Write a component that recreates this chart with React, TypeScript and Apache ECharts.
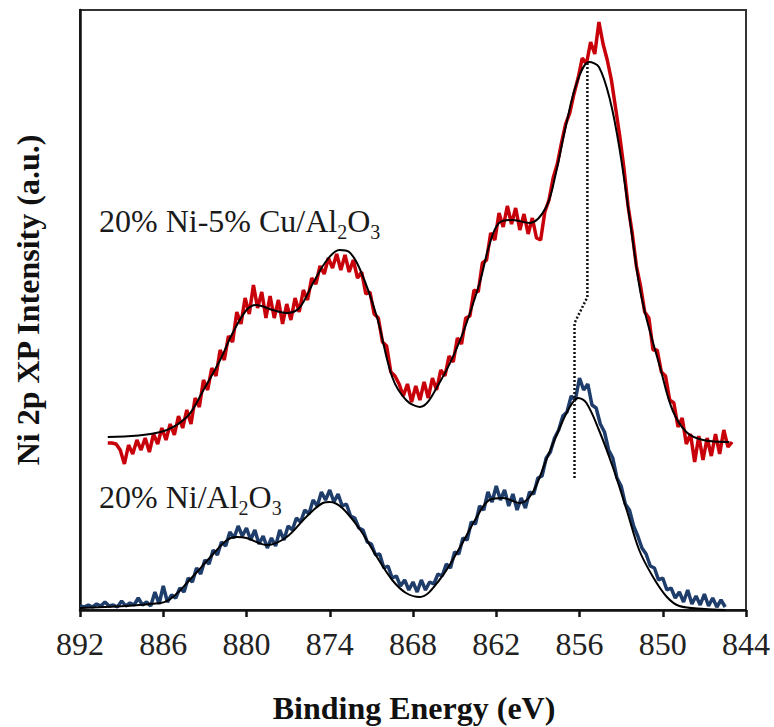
import React, { useEffect, useRef } from "react";
import * as echarts from "echarts";

// x-axis tick labels (binding energy, eV)
const xTicks = [892, 886, 880, 874, 868, 862, 856, 850, 844];

// experimental spectra: values sampled every 0.3 eV starting at the given energy
const energyStep = 0.3;
const cuStart = 890.0;
const niStart = 892.0;

// 20% Ni-5% Cu/Al2O3 measured intensity (a.u.)
const cuExp = [
  167, 167, 166, 160, 146, 165, 156, 170, 160, 172,
  158, 176, 166, 182, 170, 186, 175, 194, 182, 200,
  186, 212, 203, 230, 220, 242, 234, 260, 250, 274,
  268, 298, 286, 312, 296, 325, 302, 318, 292, 314,
  292, 310, 286, 306, 290, 312, 298, 320, 310, 332,
  326, 344, 336, 352, 342, 356, 340, 355, 338, 350,
  332, 338, 316, 318, 296, 292, 268, 264, 238, 234,
  226, 214, 226, 208, 224, 210, 228, 212, 232, 220,
  240, 234, 254, 248, 272, 266, 292, 294, 320, 318,
  347, 350, 377, 370, 397, 383, 404, 386, 402, 380,
  396, 376, 392, 372, 370, 398, 410, 432, 446, 467,
  486, 497, 516, 532, 552, 546, 568, 556, 588, 566,
  550, 530, 502, 474, 442, 404, 377, 344, 324, 298,
  292, 260, 260, 238, 234, 210, 207, 183, 192, 166,
  176, 148, 174, 150, 172, 154, 176, 156, 180, 163,
  168,
];

// 20% Ni/Al2O3 measured intensity (a.u.)
const niExp = [
  4, 3, 5, 3, 6, 4, 8, 4, 5, 3,
  9, 4, 7, 5, 12, 5, 8, 4, 18, 6,
  24, 8, 15, 12, 22, 18, 32, 28, 42, 36,
  50, 46, 60, 55, 68, 64, 78, 72, 84, 74,
  82, 70, 80, 66, 74, 62, 72, 64, 80, 70,
  84, 80, 92, 88, 100, 96, 110, 104, 118, 110,
  120, 108, 116, 104, 106, 94, 92, 82, 80, 68,
  66, 55, 56, 42, 44, 32, 34, 24, 30, 20,
  28, 18, 30, 20, 28, 26, 36, 34, 46, 42,
  58, 56, 72, 70, 88, 86, 104, 100, 118, 108,
  124, 110, 120, 104, 116, 100, 112, 102, 118, 116,
  132, 134, 152, 158, 172, 180, 194, 198, 214, 210,
  232, 220, 226, 205, 202, 186, 178, 160, 152, 132,
  124, 106, 100, 84, 74, 62, 56, 44, 42, 30,
  32, 20, 22, 12, 18, 8, 20, 6, 14, 5,
  16, 4, 12, 3, 10, 3,
];

// fitted envelopes [energy, intensity]
const cuFit = [
  [890.0, 173], [886.2, 178], [884.3, 193], [883.1, 220], [881.9, 250], [881.0, 277],
  [880.0, 300], [879.3, 305], [878.1, 300], [877.1, 297], [876.2, 302], [875.2, 327],
  [874.2, 350], [873.3, 360], [872.6, 358], [871.8, 340], [870.6, 293], [869.5, 233],
  [868.5, 210], [867.5, 203], [866.1, 227], [864.6, 270], [863.2, 327], [862.5, 365],
  [861.8, 387], [860.8, 390], [859.6, 387], [858.4, 403], [857.7, 437], [857.0, 483],
  [856.2, 527], [855.3, 548], [854.6, 543], [853.8, 510], [853.1, 460], [852.4, 393],
  [851.7, 325], [851.2, 293], [850.2, 243], [849.3, 200], [848.3, 178], [847.1, 170],
  [845.2, 168],
];

const niFit = [
  [892.0, 2], [886.2, 7], [885.3, 13], [883.9, 33], [882.6, 53], [881.4, 70],
  [880.7, 73], [880.0, 72], [878.5, 65], [877.1, 73], [875.7, 93], [874.5, 107],
  [874.0, 108], [873.1, 102], [871.8, 80], [870.6, 53], [869.5, 30], [868.5, 17],
  [867.5, 13], [866.1, 30], [864.6, 63], [863.4, 93], [862.5, 110], [861.5, 112],
  [860.3, 107], [859.4, 117], [858.4, 150], [857.4, 183], [856.7, 203], [856.1, 212],
  [855.5, 207], [854.6, 180], [853.6, 143], [852.6, 100], [851.7, 60], [850.7, 33],
  [849.7, 13], [848.8, 4], [847.0, 1], [845.5, 0],
];

// dotted guide showing the Ni 2p3/2 peak shift
const peakShift = [
  [855.43, 547], [855.43, 313], [856.36, 287], [856.36, 132],
];

const xTitle = "Binding Energy (eV)";
const yTitle = "Ni 2p XP Intensity (a.u.)";
const cuLabel = ["20% Ni-5% Cu/Al", "2", "O", "3"];
const niLabel = ["20% Ni/Al", "2", "O", "3"];

const SERIF = "'Liberation Serif', 'Times New Roman', Times, serif";

function toPairs(start: number, values: number[]) {
  return values.map((v, i) => [Number((start - i * energyStep).toFixed(2)), v]);
}

const richStyles = {
  a: { fontSize: 32, lineHeight: 42, fontFamily: SERIF, fill: "#1a1a1a" },
  s: { fontSize: 20, lineHeight: 20, verticalAlign: "bottom", fontFamily: SERIF, fill: "#1a1a1a" },
};

function richText(parts: string[]) {
  return `{a|${parts[0]}}{s|${parts[1]}}{a|${parts[2]}}{s|${parts[3]}}`;
}

export default function App() {
  const ref = useRef<HTMLDivElement>(null);

  useEffect(() => {
    if (!ref.current) return;
    const chart = echarts.init(ref.current, undefined, { renderer: "svg" });
    const option = {
      animation: false,
      backgroundColor: "#ffffff",
      grid: {
        left: 80,
        right: 28,
        top: 10,
        bottom: 117,
        show: true,
        borderColor: "#333",
        borderWidth: 2,
        backgroundColor: "transparent",
      },
      xAxis: {
        type: "value",
        min: 844,
        max: 892,
        inverse: true,
        axisLine: { show: true, lineStyle: { color: "#111", width: 2.5 } },
        axisTick: {
          show: true,
          inside: false,
          length: 7,
          lineStyle: { color: "#111", width: 2.5 },
          customValues: xTicks,
        },
        axisLabel: {
          customValues: xTicks,
          fontSize: 32,
          fontFamily: SERIF,
          color: "#222",
          margin: 18,
        },
        splitLine: { show: false },
      },
      yAxis: {
        type: "value",
        min: 0,
        max: 600,
        axisLine: { show: true, lineStyle: { color: "#111", width: 2.5 } },
        axisTick: { show: false },
        axisLabel: { show: false },
        splitLine: { show: false },
      },
      series: [
        {
          type: "line",
          data: toPairs(cuStart, cuExp),
          showSymbol: false,
          lineStyle: { color: "#c8000a", width: 3.5 },
          z: 2,
        },
        {
          type: "line",
          data: cuFit,
          smooth: 0.35,
          showSymbol: false,
          lineStyle: { color: "#000", width: 2 },
          z: 3,
        },
        {
          type: "line",
          data: toPairs(niStart, niExp),
          showSymbol: false,
          lineStyle: { color: "#1f3d6b", width: 3.5 },
          z: 2,
        },
        {
          type: "line",
          data: niFit,
          smooth: 0.35,
          showSymbol: false,
          lineStyle: { color: "#000", width: 2 },
          z: 3,
        },
        {
          type: "line",
          data: peakShift,
          showSymbol: false,
          lineStyle: { color: "#111", width: 2.5, type: [2, 2] },
          z: 4,
        },
      ],
      graphic: [
        {
          type: "text",
          x: 414,
          y: 708,
          style: {
            text: xTitle,
            align: "center",
            verticalAlign: "middle",
            fontSize: 32,
            fontWeight: "bold",
            fontFamily: SERIF,
            fill: "#111",
          },
        },
        {
          type: "text",
          x: 28,
          y: 300,
          rotation: Math.PI / 2,
          style: {
            text: yTitle,
            align: "center",
            verticalAlign: "middle",
            fontSize: 32,
            fontWeight: "bold",
            fontFamily: SERIF,
            fill: "#111",
          },
        },
        {
          type: "text",
          x: 99,
          y: 221,
          style: {
            text: richText(cuLabel),
            rich: richStyles,
            align: "left",
            verticalAlign: "middle",
          },
        },
        {
          type: "text",
          x: 99,
          y: 497,
          style: {
            text: richText(niLabel),
            rich: richStyles,
            align: "left",
            verticalAlign: "middle",
          },
        },
      ],
    };
    chart.setOption(option as any);
    return () => chart.dispose();
  }, []);

  return (
    <div
      ref={ref}
      style={{ position: "fixed", left: 0, top: 0, width: 774, height: 727 }}
    />
  );
}
